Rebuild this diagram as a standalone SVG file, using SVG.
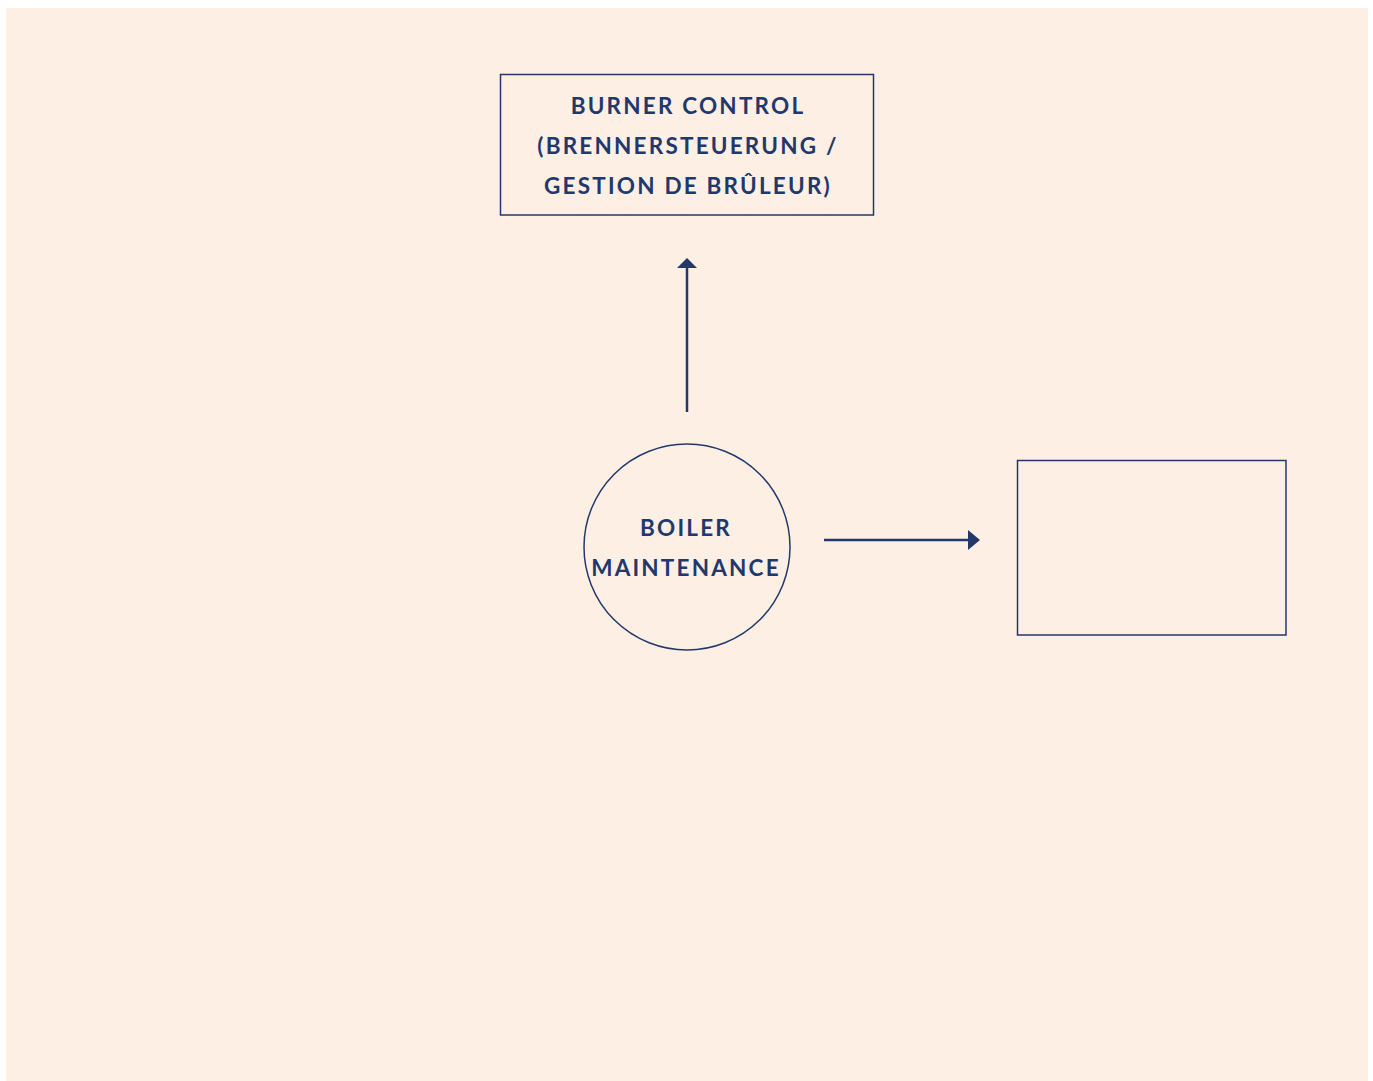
<svg xmlns="http://www.w3.org/2000/svg" width="1373" height="1081" viewBox="0 0 1373 1081">
<style>
.bg{fill:#fdefe3}
.node{fill:none;stroke:#22386b;stroke-width:1.5}
.lbl{font-family:Lato,"Open Sans",sans-serif;font-weight:bold;font-size:22.5px;fill:#22386b;text-anchor:middle;letter-spacing:2.2px}
.conn{stroke:#22386b;stroke-width:2.5;fill:none}
</style>
<rect width="1373" height="1081" fill="#ffffff"/>
<rect class="bg" x="6" y="8" width="1362" height="1073"/>
<g id="burner-control">
<rect class="node" x="500.5" y="74.5" width="373" height="140.5"/>
<text class="lbl" x="688" y="114">BURNER CONTROL</text>
<text class="lbl" x="688" y="154">(BRENNERSTEUERUNG /</text>
<text class="lbl" x="688" y="194">GESTION DE BRÛLEUR)</text>
</g>
<g id="boiler-maintenance">
<circle class="node" cx="687" cy="547" r="103"/>
<text class="lbl" x="686" y="536">BOILER</text>
<text class="lbl" x="686" y="576">MAINTENANCE</text>
</g>
<g id="empty-box">
<rect class="node" x="1017.5" y="460.5" width="268.5" height="174.5"/>
</g>
<g id="connectors">
<line class="conn" x1="687" y1="412" x2="687" y2="268"/>
<path d="M677,268 L687,258 L697,268 Z" fill="#22386b"/>
<line class="conn" x1="824" y1="540" x2="970" y2="540"/>
<path d="M968,530 L980,540 L968,550 Z" fill="#22386b"/>
</g>
</svg>
